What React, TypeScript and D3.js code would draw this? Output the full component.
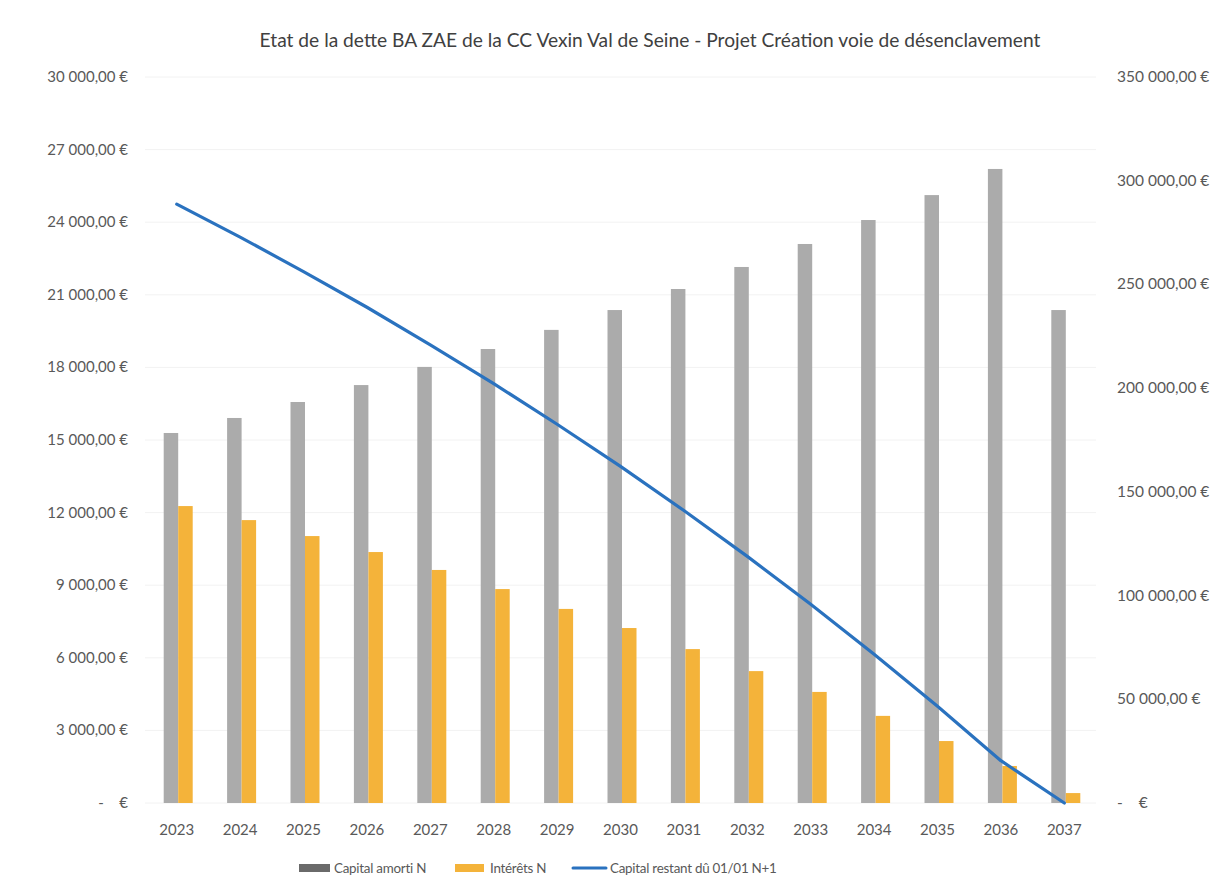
import React, { useEffect, useRef } from "react";
import * as d3 from "d3";

// Data
const YEARS = ["2023", "2024", "2025", "2026", "2027", "2028", "2029", "2030", "2031", "2032", "2033", "2034", "2035", "2036", "2037"];
const CAPITAL_AMORTI = [15290, 15910, 16570, 17270, 18020, 18760, 19550, 20370, 21240, 22150, 23100, 24090, 25120, 26200, 20370];
const INTERETS = [12270, 11690, 11030, 10370, 9630, 8840, 8020, 7230, 6360, 5450, 4590, 3600, 2560, 1530, 410];
const CAPITAL_RESTANT = [288700, 272800, 256200, 239000, 220900, 202200, 182600, 162300, 141000, 118900, 95800, 71700, 46600, 20400, 0];
const LEFT_TICKS = [0, 3000, 6000, 9000, 12000, 15000, 18000, 21000, 24000, 27000, 30000];
const RIGHT_TICKS = [0, 50000, 100000, 150000, 200000, 250000, 300000, 350000];
const SERIES_NAMES = ["Capital amorti N", "Intérêts N", "Capital restant dû 01/01 N+1"];
const TITLE = "Etat de la dette BA ZAE de la CC Vexin Val de Seine - Projet Création voie de désenclavement";

const W = 1230;
const H = 895;
const FONT = "Lato, 'Open Sans', sans-serif";
const GRAY = "#ababab";
const ORANGE = "#f4b33a";
const BLUE = "#2a72bf";
const TEXT = "#595959";

function fmtEuro(v: number) {
  if (v === 0) return "-\u00a0\u00a0\u00a0\u00a0€";
  const s = d3.format(",.2f")(v);
  return s.replace(/,/g, "\u00a0").replace(".", ",") + "\u00a0€";
}

export default function App() {
  const ref = useRef<SVGSVGElement>(null);

  useEffect(() => {
    const svg = d3.select(ref.current);
    svg.selectAll("*").remove();

    const left = 145, right = 1096, top = 77, bottom = 803;
    const x = d3.scaleBand().domain(YEARS).range([left, right]).padding(0);
    const inner = d3.scaleBand().domain(["a", "b"]).range([0, 29]);
    const yL = d3.scaleLinear().domain([0, 30000]).range([bottom, top]);
    const yR = d3.scaleLinear().domain([0, 350000]).range([bottom, top]);

    svg.append("rect").attr("width", W).attr("height", H).attr("fill", "#fff");

    // gridlines, very faint
    svg.append("g")
      .selectAll("line")
      .data(LEFT_TICKS)
      .join("line")
      .attr("x1", left).attr("x2", right)
      .attr("y1", (d) => yL(d)).attr("y2", (d) => yL(d))
      .attr("stroke", "#f2f2f2").attr("stroke-width", 1);

    // title
    svg.append("text")
      .attr("x", 650).attr("y", 47)
      .attr("text-anchor", "middle")
      .style("font-family", FONT).style("font-size", "19.2px").style("fill", "#404040")
      .text(TITLE);

    // left axis labels
    svg.append("g")
      .selectAll("text")
      .data(LEFT_TICKS)
      .join("text")
      .attr("x", 128).attr("y", (d) => yL(d) + 5)
      .attr("text-anchor", "end")
      .style("font-family", FONT).style("font-size", "15px").style("fill", TEXT)
      .text((d) => fmtEuro(d));

    // right axis labels
    svg.append("g")
      .selectAll("text")
      .data(RIGHT_TICKS)
      .join("text")
      .attr("x", 1117).attr("y", (d) => yR(d) + 5)
      .attr("text-anchor", "start")
      .style("font-family", FONT).style("font-size", "15.5px").style("fill", TEXT)
      .text((d) => fmtEuro(d));

    // bars
    const gBars = svg.append("g");
    YEARS.forEach((yr, i) => {
      const gx = (x(yr) as number) + x.bandwidth() / 2 - 13;
      gBars.append("rect")
        .attr("x", gx + (inner("a") as number))
        .attr("y", yL(CAPITAL_AMORTI[i]))
        .attr("width", inner.bandwidth())
        .attr("height", bottom - yL(CAPITAL_AMORTI[i]))
        .attr("fill", GRAY);
      gBars.append("rect")
        .attr("x", gx + (inner("b") as number))
        .attr("y", yL(INTERETS[i]))
        .attr("width", inner.bandwidth())
        .attr("height", bottom - yL(INTERETS[i]))
        .attr("fill", ORANGE);
    });

    // line
    const line = d3.line<number>()
      .x((_, i) => (x(YEARS[i]) as number) + x.bandwidth() / 2)
      .y((d) => yR(d));
    svg.append("path")
      .datum(CAPITAL_RESTANT)
      .attr("d", line)
      .attr("fill", "none")
      .attr("stroke", BLUE)
      .attr("stroke-width", 3.2)
      .attr("stroke-linejoin", "round")
      .attr("stroke-linecap", "round");

    // x labels
    svg.append("g")
      .selectAll("text")
      .data(YEARS)
      .join("text")
      .attr("x", (d) => (x(d) as number) + x.bandwidth() / 2)
      .attr("y", 835)
      .attr("text-anchor", "middle")
      .style("font-family", FONT).style("font-size", "15px").style("fill", TEXT)
      .text((d) => d);

    // legend
    const lg = svg.append("g");
    const ly = 868;
    lg.append("rect").attr("x", 299).attr("y", ly - 4).attr("width", 31).attr("height", 8).attr("fill", "#6a6a6a");
    lg.append("text").attr("x", 334).attr("y", ly + 5).text(SERIES_NAMES[0]);
    lg.append("rect").attr("x", 455).attr("y", ly - 4).attr("width", 29).attr("height", 8).attr("fill", ORANGE);
    lg.append("text").attr("x", 490).attr("y", ly + 5).text(SERIES_NAMES[1]);
    lg.append("line").attr("x1", 573).attr("x2", 606).attr("y1", ly).attr("y2", ly)
      .attr("stroke", BLUE).attr("stroke-width", 3).attr("stroke-linecap", "round");
    lg.append("text").attr("x", 610).attr("y", ly + 5).text(SERIES_NAMES[2]);
    lg.selectAll("text")
      .style("font-family", FONT).style("font-size", "13.4px").style("letter-spacing", "-0.25px").style("fill", TEXT);
  }, []);

  return (
    <svg ref={ref} width={W} height={H} style={{ position: "absolute", left: 0, top: 0 }} />
  );
}
